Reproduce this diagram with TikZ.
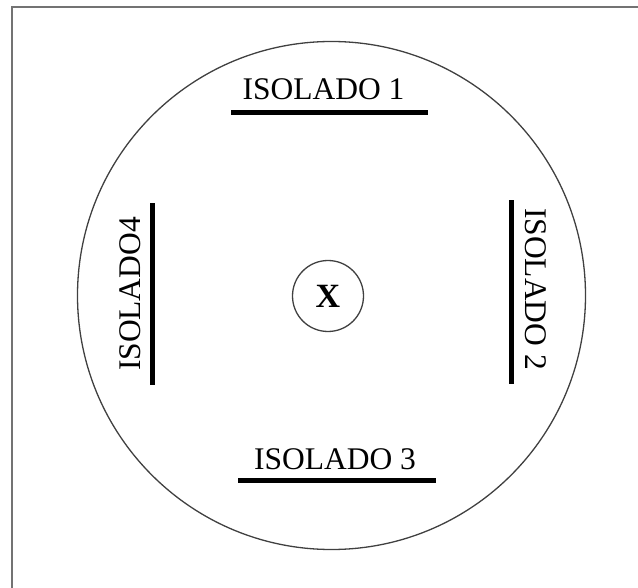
\documentclass[tikz,border=0pt]{standalone}
\usepackage{fontspec}
\setmainfont{Liberation Serif}
\usepackage{tikz}
\usetikzlibrary{positioning}
\tikzset{
  dish plate/.style={circle,draw=black!75,line width=1.3pt,inner sep=0pt,
    minimum size=508pt},
  dish well/.style={circle,draw=black!75,line width=1.3pt,inner sep=0pt,
    minimum size=71pt,font=\fontsize{34}{34}\selectfont\bfseries},
  dish hbar/.style={fill=black,inner sep=0pt,minimum height=5pt},
  dish vbar/.style={fill=black,inner sep=0pt,minimum width=5pt},
  dish label/.style={inner sep=0pt,font=\fontsize{31.5}{36}\selectfont},
  dish frame/.style={draw=black!55,line width=2pt}
}

\begin{document}
\begin{tikzpicture}[x=1pt,y=-1pt]
  \useasboundingbox (0,0) rectangle (638,588);
  \draw[dish frame] (12,600) -- (12,7) -- (650,7);

  \node[dish plate] (plate) at (331.5,295.5) {};
  \node[dish well] (well) at (328,296) {X};

  % the four isolates around the central well
  \node[dish hbar,minimum width=197pt] (bar1) at (329.5,112.5) {};
  \node[dish vbar,minimum height=184pt] (bar2) at (511,292) {};
  \node[dish hbar,minimum width=198pt] (bar3) at (337,480) {};
  \node[dish vbar,minimum height=182pt] (bar4) at (152.7,294) {};

  \node[dish label,above=10pt of bar1,xshift=-6pt] (iso1) {ISOLADO 1};
  \node[dish label,above=7.5pt of bar3,xshift=-2pt] (iso3) {ISOLADO 3};
  \node[dish label,rotate=-90,anchor=south] (iso2)
    at ([xshift=11.5pt,yshift=3pt]bar2.east) {ISOLADO 2};
  \node[dish label,rotate=90,anchor=south] (iso4)
    at ([xshift=-8.5pt]bar4.west) {ISOLADO4};
\end{tikzpicture}
\end{document}
